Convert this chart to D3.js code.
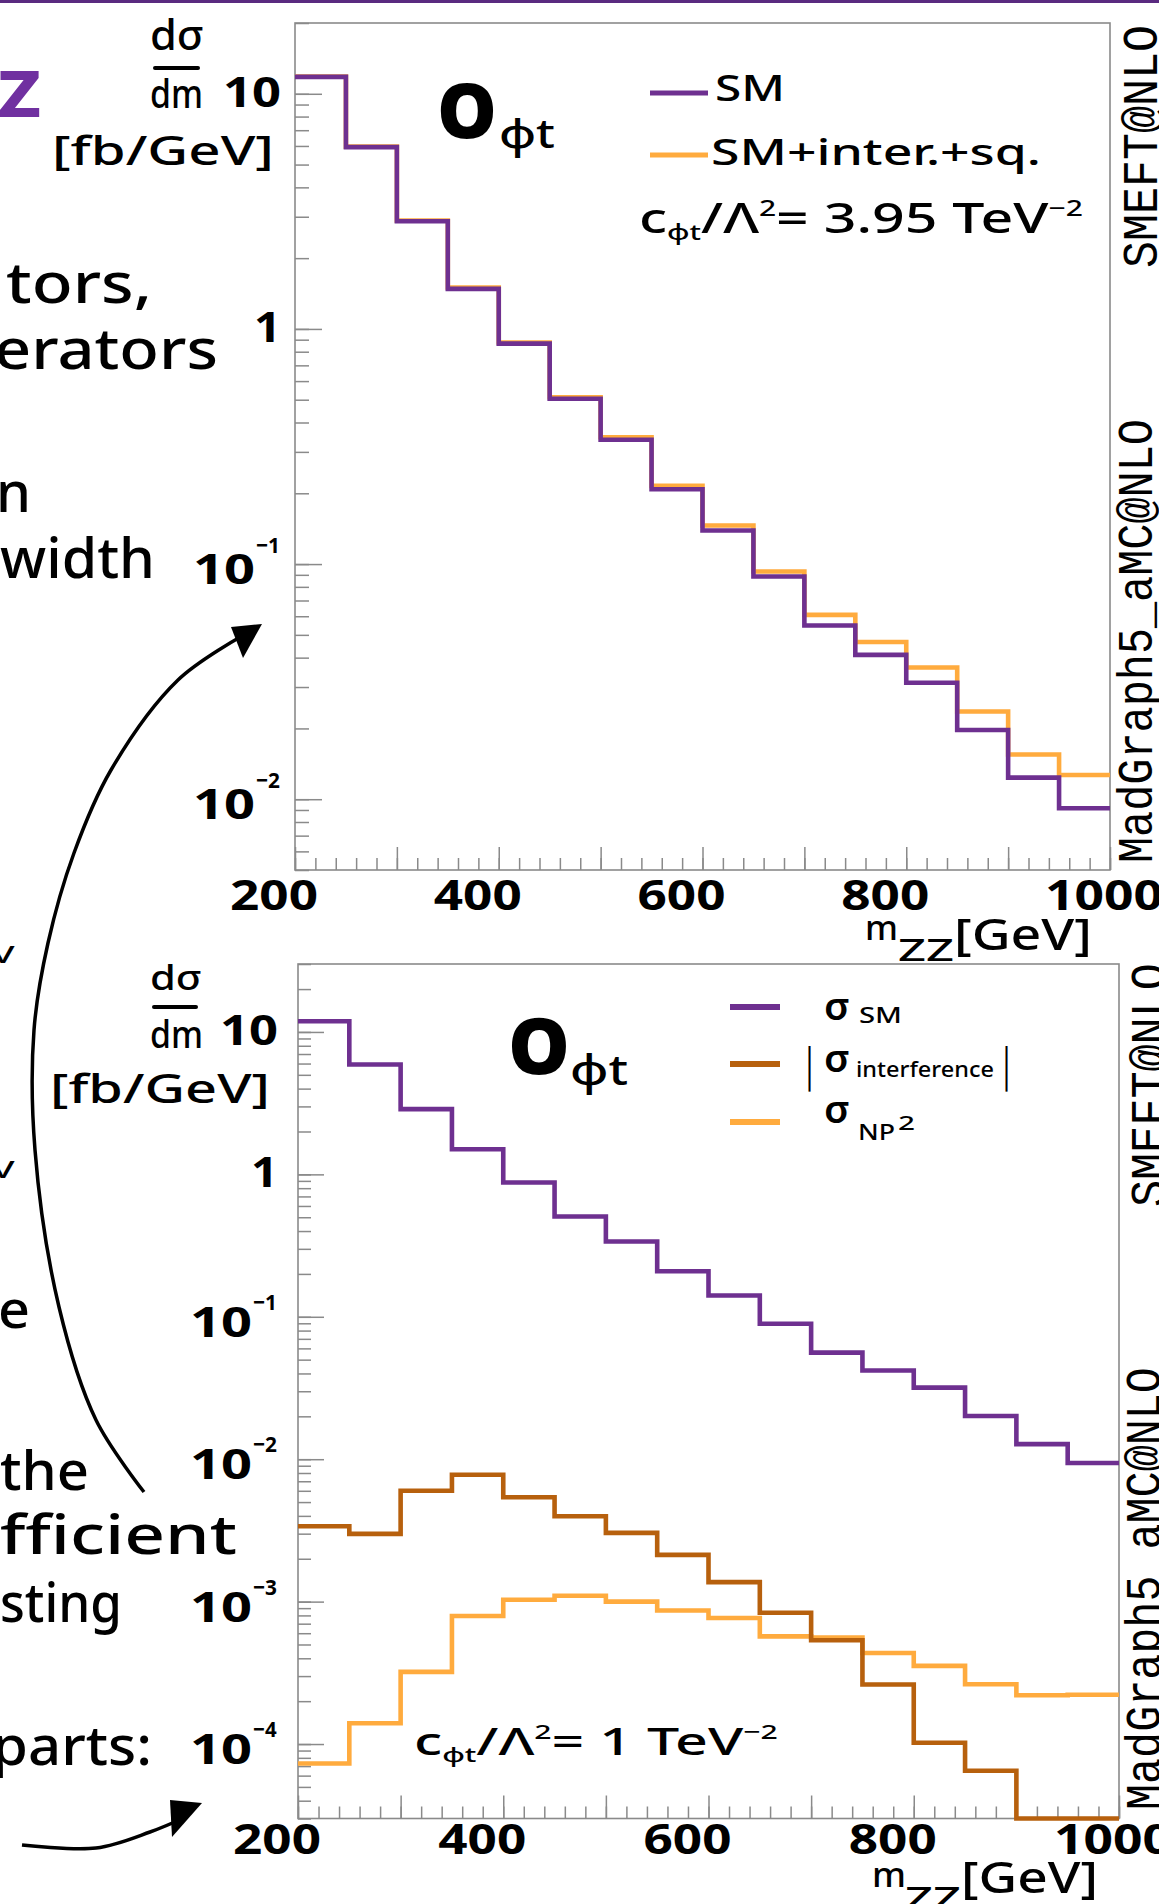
<!DOCTYPE html>
<html><head><meta charset="utf-8"><title>m_ZZ distributions, O_phi t</title>
<script src="https://cdn.jsdelivr.net/npm/d3@7"></script>
<style>
body{margin:0;background:#fff;overflow:hidden}
svg{display:block;background:#fff}
text{font-family:"Noto Sans",sans-serif;fill:#000}
.tk line{stroke:#8a8a8a;stroke-width:1.5}
.tk path{display:none}
</style></head><body>
<svg id="fig" width="1159" height="1904"></svg>
<script>
// bin edges of m_ZZ [GeV]
var massEdges=[200,250,300,350,400,450,500,550,600,650,700,750,800,850,900,950,1000];
// upper plot: c/Lambda^2 = 3.95 TeV^-2
var topSM  =[11.8,5.93,2.87,1.48,0.866,0.505,0.338,0.208,0.139,0.0886,0.0548,0.0411,0.0313,0.0197,0.01236,0.00916];
var topFull=[11.85,5.96,2.89,1.50,0.876,0.512,0.346,0.215,0.146,0.093,0.0608,0.0466,0.0363,0.0236,0.0155,0.01268];
// lower plot: c/Lambda^2 = 1 TeV^-2
var botSM  =[11.9,5.91,2.87,1.50,0.876,0.506,0.338,0.2086,0.141,0.0893,0.056,0.042,0.0318,0.0201,0.01276,0.0094];
var botInt =[0.00338,0.00299,0.00601,0.00778,0.0054,0.00398,0.00304,0.00213,0.00137,0.000836,0.000535,0.000262,0.000102,0.000065,0.00002,0.00002];
var botNP2 =[0.000073,0.00014,0.000321,0.000792,0.00103,0.0011,0.001,0.000867,0.000767,0.00057,0.00056,0.000436,0.000354,0.000263,0.00022,0.000222];
// tick labels
var xTickLabels=[200,400,600,800,1000];
var yTopLabels=[[10,""],[1,""],[0.1,"-1"],[0.01,"-2"]];
var yBotLabels=[[10,""],[1,""],[0.1,"-1"],[0.01,"-2"],[0.001,"-3"],[0.0001,"-4"]];

var cPurple="#6e3090", cOrange="#ffab3e", cBrown="#b7600d";
var svg=d3.select("#fig");

// put text (with optional sub/sup tspans) so that it starts at x, baseline y, spanning width
function label(parent,parts,x,y,size,width,opt){
	opt=opt||{};
	var g=parent.append("g");
	var t=g.append("text").attr("font-size",size).attr("font-weight",opt.weight||500);
	if(opt.fill)t.style("fill",opt.fill);
	if(opt.family)t.style("font-family",opt.family);
	(typeof parts==="string"?[[parts]]:parts).forEach(function(p){
		var s=t.append("tspan").text(p[0]);
		if(p[1])s.attr("font-size",p[1]);
		if(p[2])s.attr("dy",p[2]);
	});
	var b=t.node().getBBox(), k=width?width/b.width:1;
	g.attr("transform","translate("+x+","+y+")"+(opt.rot?" rotate("+opt.rot+")":"")+" scale("+k+",1) translate("+(-b.x)+",0)");
	return g;
}

function stepPts(vals){
	var p=vals.map(function(v,i){return [massEdges[i],v];});
	p.push([massEdges[massEdges.length-1],vals[vals.length-1]]);
	return p;
}

function panel(cfg){
	var x=d3.scaleLinear().domain([200,1000]).range([cfg.left,cfg.right]);
	var y=d3.scaleLog().domain(cfg.ydom).range([cfg.bottom,cfg.top]).clamp(true);
	var g=svg.append("g");
	// ticks, inside the frame
	var minors=[];
	for(var n=-6;n<=2;n++)for(var k=1;k<=9;k++){var v=k*Math.pow(10,n);if(v>=cfg.ydom[0]&&v<=cfg.ydom[1])minors.push(v);}
	var majors=minors.filter(function(v){return Math.abs(Math.log10(v)-Math.round(Math.log10(v)))<1e-9;});
	g.append("g").attr("class","tk").attr("transform","translate("+cfg.left+",0)")
		.call(d3.axisLeft(y).tickValues(minors).tickSize(-cfg.yMinor).tickFormat(""));
	g.append("g").attr("class","tk").attr("transform","translate("+cfg.left+",0)")
		.call(d3.axisLeft(y).tickValues(majors).tickSize(-cfg.yMajor).tickFormat(""));
	g.append("g").attr("class","tk").attr("transform","translate(0,"+cfg.bottom+")")
		.call(d3.axisBottom(x).tickValues(d3.range(200,1001,20)).tickSize(-12).tickFormat(""));
	g.append("g").attr("class","tk").attr("transform","translate(0,"+cfg.bottom+")")
		.call(d3.axisBottom(x).tickValues(d3.range(200,1001,100)).tickSize(-23).tickFormat(""));
	g.append("rect").attr("x",cfg.left).attr("y",cfg.top).attr("width",cfg.right-cfg.left).attr("height",cfg.bottom-cfg.top)
		.attr("fill","none").attr("stroke","#8a8a8a").attr("stroke-width",1.6);
	// histograms
	var line=d3.line().x(function(d){return x(d[0]);}).y(function(d){return y(d[1]);}).curve(d3.curveStepAfter);
	cfg.series.forEach(function(s){
		g.append("path").attr("d",line(stepPts(s.vals))).attr("fill","none")
			.attr("stroke",s.color).attr("stroke-width",4.6).attr("stroke-linejoin","miter");
	});
	// tick labels (hand written ones sit a little left of their ticks)
	xTickLabels.forEach(function(v){
		var w=v<1000?88:118, shift=v<1000?-21:-6;
		label(svg,String(v),x(v)+shift-w/2,cfg.bottom+cfg.xlab,42,w,{weight:700});
	});
	cfg.ylabels.forEach(function(d){
		var yy=y(d[0]);
		if(!d[1]){
			var s=d[0]===10?"10":"1", w=d[0]===10?58:27;
			label(svg,s,cfg.ylabRight-w,yy+13,42,w,{weight:700});
		}else{
			label(svg,"10",cfg.ylabRight-26-62,yy+20,42,62,{weight:700});
			label(svg,d[1].replace("-","\u2212"),cfg.ylabRight-25,yy+cfg.expOff,22,24,{weight:700});
		}
	});
	return {x:x,y:y};
}

// thin rule at the very top of the slide
svg.append("rect").attr("x",0).attr("y",0).attr("width",1159).attr("height",3).attr("fill","#5a2a80");

panel({left:295,right:1110,top:23,bottom:870,ydom:[0.005,20],yMajor:27,yMinor:14,xlab:40,ylabRight:281,expOff:-11,
	ylabels:yTopLabels,
	series:[{vals:topFull,color:cOrange},{vals:topSM,color:cPurple}]});
panel({left:298,right:1119,top:964,bottom:1818.5,ydom:[0.00003,30],yMajor:26,yMinor:13,xlab:35,ylabRight:278,expOff:-7,
	ylabels:yBotLabels,
	series:[{vals:botNP2,color:cOrange},{vals:botInt,color:cBrown},{vals:botSM,color:cPurple}]});

// ---- upper plot decorations ----
label(svg,"d\u03c3",150,50,42,54);
svg.append("line").attr("x1",155).attr("x2",198).attr("y1",68).attr("y2",68).attr("stroke","#000").attr("stroke-width",4).attr("stroke-linecap","round");
label(svg,"dm",150,108,40,53);
label(svg,"[fb/GeV]",52,165,40,222);
label(svg,"O",437,138,76,60,{weight:900});
label(svg,"\u03c6t",499,148,40,56);
svg.append("line").attr("x1",650).attr("x2",708).attr("y1",93).attr("y2",93).attr("stroke",cPurple).attr("stroke-width",5);
svg.append("line").attr("x1",650).attr("x2",708).attr("y1",155).attr("y2",155).attr("stroke",cOrange).attr("stroke-width",5);
label(svg,"SM",715,101,36,70);
label(svg,"SM+inter.+sq.",711,165,36,330);
label(svg,[["c"],["\u03c6t",22,7],["/\u039b",null,-7],["2",22,-17],["= 3.95 TeV",null,17],["\u22122",22,-17]],639,233,42,444);
label(svg,"m",865,940,34,33);
label(svg,"ZZ",898,961,30,56);
label(svg,"[GeV]",954,950,44,138);
label(svg,"SMEFT@NLO",1157,268,50,243,{rot:-90,family:"Liberation Mono",weight:400});
label(svg,"MadGraph5_aMC@NLO",1152,863,50,444,{rot:-90,family:"Liberation Mono",weight:400});

// ---- lower plot decorations ----
label(svg,"d\u03c3",150,990,34,52);
svg.append("line").attr("x1",154).attr("x2",196).attr("y1",1007).attr("y2",1007).attr("stroke","#000").attr("stroke-width",4).attr("stroke-linecap","round");
label(svg,"dm",150,1048,38,53);
label(svg,"[fb/GeV]",50,1103,40,220);
label(svg,"O",508,1074,78,62,{weight:900});
label(svg,"\u03c6t",570,1085,42,58);
[[1007,cPurple],[1064,cBrown],[1122,cOrange]].forEach(function(d){
	svg.append("line").attr("x1",730).attr("x2",780).attr("y1",d[0]).attr("y2",d[0]).attr("stroke",d[1]).attr("stroke-width",6);
});
label(svg,"\u03c3",824,1020,38,26,{weight:600});
label(svg,"SM",859,1023,22,43);
label(svg,"|",805,1081,46,9,{weight:800});
label(svg,"\u03c3",824,1072,38,26,{weight:600});
label(svg,"interference",856,1077,21,138);
label(svg,"|",1002,1081,46,9,{weight:800});
label(svg,"\u03c3",824,1123,38,26,{weight:600});
label(svg,"NP",858,1140,22,37);
label(svg,"2",898,1130,20,17);
label(svg,[["c"],["\u03c6t",20,7],["/\u039b",null,-7],["2",20,-16],["= 1 TeV",null,16],["\u22122",20,-16]],414,1755,38,364);
label(svg,"m",872,1887,34,34);
label(svg,"ZZ",905,1909,30,56);
label(svg,"[GeV]",961,1893,44,137);
label(svg,"SMEFT@NLO",1165,1207,50,244,{rot:-90,family:"Liberation Mono",weight:400});
label(svg,"MadGraph5_aMC@NLO",1160,1810,50,443,{rot:-90,family:"Liberation Mono",weight:400});

// ---- slide text cut by the crop ----
label(svg,"Z",-2,117,64,43,{weight:800,fill:"#7030a0"});
label(svg,"tors,",6,303,56,146);
label(svg,"erators",-6,369,56,224);
label(svg,"n",-4,512,56,35);
label(svg,"width",0,578,56,155);
label(svg,"V",-9,963,24,24);
label(svg,"V",-9,1178,24,24);
label(svg,"e",-2,1328,52,32);
label(svg,"the",0,1490,54,89);
label(svg,"fficient",0,1554,54,237);
label(svg,"sting",0,1622,54,122);
label(svg,"parts:",-8,1765,54,160);

// arrows
var curve=d3.line().curve(d3.curveCatmullRom);
svg.append("path").attr("d",curve([[144,1492],[96,1420],[59,1307],[35,1150],[34,1030],[48,943],[74,853],[111,770],[178,680],[242,636]]))
	.attr("fill","none").attr("stroke","#000").attr("stroke-width",3.5);
svg.append("path").attr("d","M262,624L231,627L243,658Z").attr("fill","#000");
svg.append("path").attr("d",curve([[22,1845],[96,1848],[150,1832],[186,1817]]))
	.attr("fill","none").attr("stroke","#000").attr("stroke-width",3.5);
svg.append("path").attr("d","M202,1803L170,1800L172,1837Z").attr("fill","#000");
</script>
</body></html>
